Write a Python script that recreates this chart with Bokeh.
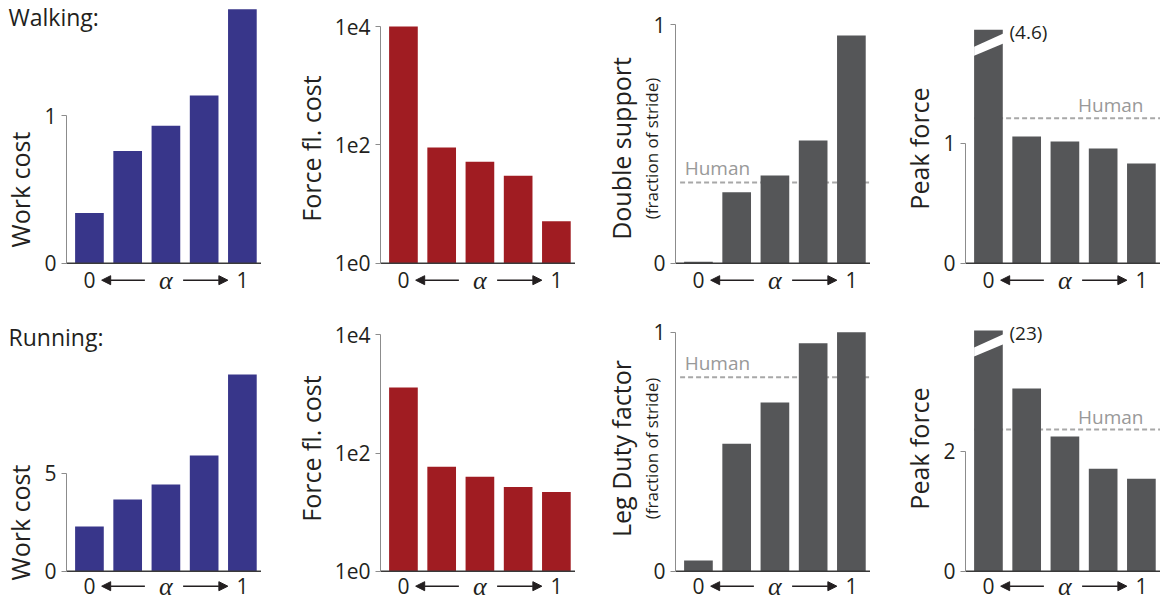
import math
from bokeh.plotting import figure
from bokeh.models import Range1d, LinearAxis, FixedTicker, Label, Arrow, NormalHead
from bokeh.layouts import row, column
from bokeh.embed import file_html
from bokeh.resources import INLINE
from bokeh.core.properties import value

# ---------------- data ----------------
alpha_steps = [0, 1, 2, 3, 4]            # five settings of alpha, from alpha = 0 (left) to alpha = 1 (right)
alpha_end_labels = ["0", "1"]

walk_work_cost   = [0.34, 0.76, 0.93, 1.135, 1.72]
walk_force_cost  = [10000, 90, 52, 30, 5.1]
walk_double_supp = [0.006, 0.297, 0.367, 0.514, 0.954]
walk_peak_force  = [4.6, 1.056, 1.014, 0.956, 0.831]

run_work_cost    = [2.28, 3.66, 4.42, 5.90, 10.04]
run_force_cost   = [1280, 58.5, 39.5, 26.7, 21.9]
run_duty_factor  = [0.045, 0.533, 0.706, 0.954, 1.0]
run_peak_force   = [23, 3.045, 2.245, 1.707, 1.54]

human_walk_double = 0.338
human_walk_peak   = 1.208
human_run_duty    = 0.812
human_run_peak    = 2.36

walk_peak_break = 1.945     # axis break: the off-scale bar is cut here
run_peak_break  = 4.01

# ---------------- style / layout ----------------
BLUE, RED, GRAY = "#38368a", "#a01c22", "#555658"
TXT = "#231f20"
FONT = "Open Sans"
FRAME_W = 195
XR = (-0.6, 4.5)
PX_X = FRAME_W / (XR[1] - XR[0])
BAR_W = 0.75
ROW_TOP = [0, 296]
ROW_H = [296, 304]
ROW_BASE = [262.7, 570.7]
LEFT_BORDER = [66, 119, 100, 95]
TITLE_INSET = 8
LAB_DROP = [17, 15]

panels = [
    dict(r=0, c=0, vals=walk_work_cost, color=BLUE, log=False, unit=147.7, ticks=[0, 1],
         labels={0: "0", 1: "1"}, bounds=(0, 1), ylabel="Work cost"),
    dict(r=0, c=1, vals=walk_force_cost, color=RED, log=True, unit=59.17, ticks=[1, 100, 10000],
         labels={1: "1e0", 100: "1e2", 10000: "1e4"}, bounds=(1, 10000), ylabel="Force fl. cost"),
    dict(r=0, c=2, vals=walk_double_supp, color=GRAY, log=False, unit=238.7, ticks=[0, 1],
         labels={0: "0", 1: "1"}, bounds=(0, 1), ylabel="Double support", sub="(fraction of stride)",
         human=human_walk_double, hx0=-0.48, hlab=(-0.36, "left", 1.5)),
    dict(r=0, c=3, vals=walk_peak_force, color=GRAY, log=False, unit=120.0, ticks=[0, 1],
         labels={0: "0", 1: "1"}, bounds=(0, 1), ylabel="Peak force",
         human=human_walk_peak, hx0=-0.375, hlab=(4.055, "right", 0), brk=walk_peak_break),
    dict(r=1, c=0, vals=run_work_cost, color=BLUE, log=False, unit=19.6, ticks=[0, 5],
         labels={0: "0", 5: "5"}, bounds=(0, 5), ylabel="Work cost"),
    dict(r=1, c=1, vals=run_force_cost, color=RED, log=True, unit=59.1, ticks=[1, 100, 10000],
         labels={1: "1e0", 100: "1e2", 10000: "1e4"}, bounds=(1, 10000), ylabel="Force fl. cost"),
    dict(r=1, c=2, vals=run_duty_factor, color=GRAY, log=False, unit=239.0, ticks=[0, 1],
         labels={0: "0", 1: "1"}, bounds=(0, 1), ylabel="Leg Duty factor", sub="(fraction of stride)",
         human=human_run_duty, hx0=-0.48, hlab=(-0.36, "left", 1.0)),
    dict(r=1, c=3, vals=run_peak_force, color=GRAY, log=False, unit=60.0, ticks=[0, 2],
         labels={0: "0", 2: "2"}, bounds=(0, 2), ylabel="Peak force",
         human=human_run_peak, hx0=-0.375, hlab=(4.055, "right", 0), brk=run_peak_break),
]


def shift(cfg, v, px):
    """value moved px pixels up (negative: down) on the panel's y scale"""
    if cfg["log"]:
        return v * 10 ** (px / cfg["unit"])
    return v + px / cfg["unit"]


def build(cfg):
    r, c = cfg["r"], cfg["c"]
    base = 1 if cfg["log"] else 0
    above = ROW_BASE[r] - ROW_TOP[r]
    below = ROW_TOP[r] + ROW_H[r] - ROW_BASE[r]
    yr = Range1d(shift(cfg, base, -below), shift(cfg, base, above))
    if c == 0:
        # first column: frame reaches the left edge so the row title can sit there;
        # the y axis is pinned at the start of the bar area
        xr = Range1d(XR[0] - LEFT_BORDER[0] / PX_X, XR[1])
        fw, mbl = FRAME_W + LEFT_BORDER[0], 0
    else:
        xr = Range1d(*XR)
        fw, mbl = FRAME_W, LEFT_BORDER[c]
    p = figure(frame_width=fw, frame_height=ROW_H[r], x_range=xr, y_range=yr,
               y_axis_type="log" if cfg["log"] else "linear", x_axis_type=None,
               output_backend="svg", toolbar_location=None,
               min_border_left=mbl, min_border_right=0, min_border_top=0,
               min_border_bottom=0, outline_line_color=None)
    p.grid.visible = False

    ax = p.yaxis[0]
    if c == 0:
        ax.fixed_location = XR[0]
    ax.ticker = FixedTicker(ticks=cfg["ticks"])
    ax.major_label_overrides = cfg["labels"]
    ax.bounds = cfg["bounds"]
    ax.axis_line_color = "#8c8c8c"
    ax.major_tick_line_color = "#8c8c8c"
    ax.minor_tick_line_color = None
    ax.major_tick_out = 5
    ax.major_tick_in = 0
    ax.major_label_standoff = 5
    ax.major_label_text_font = FONT
    ax.major_label_text_font_size = "21px"
    ax.major_label_text_color = TXT
    ax.axis_label_text_font = FONT
    ax.axis_label_text_font_style = "normal"
    ax.axis_label_text_color = TXT
    if cfg.get("sub"):
        ax.axis_label = cfg["sub"]
        ax.axis_label_text_font_size = "17px"
        ax.axis_label_standoff = -13
        ax2 = LinearAxis(ticker=FixedTicker(ticks=[]), axis_label=cfg["ylabel"],
                         axis_line_color=None, major_tick_line_color=None,
                         minor_tick_line_color=None, major_label_text_font_size="0px",
                         axis_label_standoff=0, axis_label_text_font=FONT,
                         axis_label_text_font_style="normal", axis_label_text_color=TXT,
                         axis_label_text_font_size="25px")
        p.add_layout(ax2, "left")
    else:
        ax.axis_label = cfg["ylabel"]
        ax.axis_label_text_font_size = "25px"
        ax.axis_label_standoff = 4

    # human reference line (behind bars)
    if cfg.get("human") is not None:
        h = cfg["human"]
        p.segment(x0=[cfg["hx0"]], x1=[XR[1]], y0=[h], y1=[h], line_color="#a8a8a8",
                  line_width=2, line_dash="5 3")
        hx, halign, hpx = cfg["hlab"]
        p.add_layout(Label(x=hx, y=shift(cfg, h, hpx), text="Human", text_align=halign,
                           text_baseline="bottom", text_font=FONT, text_font_size="19px",
                           text_color="#999999"))

    vals = cfg["vals"]
    tops = [min(v, cfg["brk"]) for v in vals] if cfg.get("brk") else vals
    p.vbar(x=alpha_steps, top=tops, bottom=base, width=BAR_W, fill_color=cfg["color"],
           line_color=None)

    if cfg.get("brk"):
        b = cfg["brk"]
        x0 = alpha_steps[0] - BAR_W / 2
        x1 = alpha_steps[0] + BAR_W / 2 + 0.03
        p.patch(x=[x0, x1, x1, x0],
                y=[shift(cfg, b, -17), shift(cfg, b, -3.5), shift(cfg, b, -13.5), shift(cfg, b, -26)],
                fill_color="white", line_color=None)
        p.add_layout(Label(x=alpha_steps[0] + 0.55, y=shift(cfg, b, -2), text="(%g)" % vals[0],
                           text_align="left", text_baseline="middle", text_font=FONT,
                           text_font_size="19px", text_color=TXT))

    # baseline
    p.segment(x0=[XR[0]], x1=[XR[1]], y0=[base], y1=[base], line_color="#3a3a3a", line_width=1.5)

    # 0 <-- alpha --> 1
    ylab = shift(cfg, base, -LAB_DROP[r])
    p.text(x=[alpha_steps[0], alpha_steps[-1]], y=[ylab, ylab], text=alpha_end_labels,
           text_font=value(FONT), text_font_size="21px", text_align="center",
           text_baseline="middle", text_color=TXT)
    mid = alpha_steps[len(alpha_steps) // 2]
    p.text(x=[mid], y=[ylab], text=["α"], text_font=value("Liberation Serif"),
           text_font_style="italic", text_font_size="26px", text_align="center",
           text_baseline="middle", text_color=TXT)
    for xs, xe in [(1.45, 0.32), (2.45, 3.62)]:
        p.add_layout(Arrow(x_start=xs, x_end=xe, y_start=ylab, y_end=ylab, line_width=1.5,
                           line_color=TXT,
                           end=NormalHead(size=9, fill_color=TXT, line_color=TXT)))
    return p


figs = [build(cfg) for cfg in panels]

# row titles (inside the widened first-column frames)
title_x = XR[0] - (LEFT_BORDER[0] - TITLE_INSET) / PX_X
figs[0].add_layout(Label(x=title_x, y=shift(panels[0], 0, ROW_BASE[0] - ROW_TOP[0]),
                         text="Walking:", text_font=FONT, text_font_size="23px", text_color=TXT,
                         text_baseline="top"))
figs[4].add_layout(Label(x=title_x, y=shift(panels[4], 0, ROW_BASE[1] - 352),
                         text="Running:", text_font=FONT, text_font_size="23px", text_color=TXT,
                         text_baseline="bottom"))

layout = column(row(*figs[:4]), row(*figs[4:]))
open("out.html", "w").write(file_html(layout, INLINE))
